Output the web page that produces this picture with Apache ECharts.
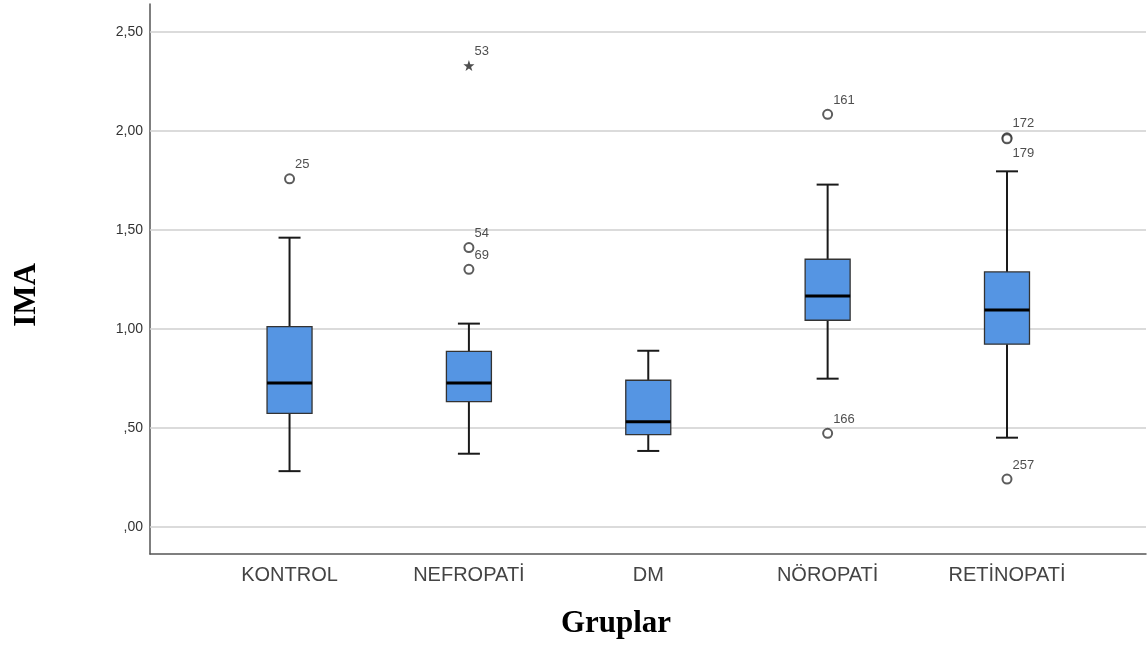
<!DOCTYPE html>
<html>
<head>
<meta charset="utf-8">
<script src="https://cdn.jsdelivr.net/npm/echarts@6/dist/echarts.min.js"></script>
<style>html,body{margin:0;padding:0;background:#fff}#c{width:1148px;height:648px}</style>
</head>
<body>
<div id="c"></div>
<script>
// ---- data ----
const categories = ['KONTROL', 'NEFROPATİ', 'DM', 'NÖROPATİ', 'RETİNOPATİ'];
const lowerWhisker = [0.282, 0.370, 0.384, 0.749, 0.451];
const q1 = [0.574, 0.633, 0.466, 1.044, 0.923];
const median = [0.727, 0.727, 0.532, 1.167, 1.096];
const q3 = [1.012, 0.887, 0.741, 1.352, 1.288];
const upperWhisker = [1.461, 1.027, 0.890, 1.729, 1.796];

const outlierGroup = [0, 1, 1, 3, 3, 4, 4, 4];
const outlierValue = [1.758, 1.411, 1.301, 2.084, 0.473, 1.965, 1.960, 0.242];
const outlierId = ['25', '54', '69', '161', '166', '172', '179', '257'];

const extremeGroup = [1];
const extremeValue = [2.33];
const extremeId = ['53'];

const yTicks = [0, 0.5, 1.0, 1.5, 2.0, 2.5];

// ---- build ----
const boxData = categories.map((c, i) => [i, lowerWhisker[i], q1[i], median[i], q3[i], upperWhisker[i]]);
const outlierData = outlierGroup.map((g, i) => ({
  value: [g, outlierValue[i]], name: outlierId[i],
  label: outlierId[i] === '179' ? { offset: [0, 15] } : undefined
}));
const extremeData = extremeGroup.map((g, i) => ({ value: [g, extremeValue[i]], name: extremeId[i] }));

const fmtY = v => { let s = v.toFixed(2).replace('.', ','); if (s.startsWith('0')) s = s.slice(1); return s; };

const chart = echarts.init(document.getElementById('c'), null, { renderer: 'canvas' });
const labelStyle = {
  show: true, position: 'right', distance: 0, offset: [0, -14],
  formatter: p => p.name, color: '#222', fontSize: 13,
  fontFamily: 'Liberation Sans, Arial, sans-serif'
};
chart.setOption({
  animation: false,
  backgroundColor: '#fff',
  grid: { left: 150, right: 2, top: 4, bottom: 94 },
  xAxis: {
    type: 'value', min: -0.778, max: 4.775,
    axisLine: { show: true, onZero: false, lineStyle: { color: '#555', width: 1.5 } },
    axisTick: { show: false },
    splitLine: { show: false },
    axisLabel: {
      customValues: [0, 1, 2, 3, 4],
      formatter: v => categories[Math.round(v)] || '',
      color: '#444', fontSize: 20, margin: 11,
      fontFamily: 'Liberation Sans, Arial, sans-serif'
    },
    name: 'Gruplar', nameLocation: 'middle', nameGap: 54,
    nameTextStyle: { fontFamily: 'Liberation Serif, Times New Roman, serif', fontWeight: 'bold', fontSize: 31, color: '#000', padding: [0, 64, 0, 0] }
  },
  yAxis: {
    type: 'value', min: -0.1364, max: 2.641,
    axisLine: { show: true, onZero: false, lineStyle: { color: '#555', width: 1.5 } },
    axisTick: { show: false },
    splitLine: { show: false },
    axisLabel: {
      customValues: yTicks,
      formatter: fmtY,
      color: '#333', fontSize: 14, margin: 7,
      fontFamily: 'Liberation Sans, Arial, sans-serif'
    },
    name: 'IMA', nameLocation: 'middle', nameGap: 108, nameRotate: 90,
    nameTextStyle: { fontFamily: 'Liberation Serif, Times New Roman, serif', fontWeight: 'bold', fontSize: 31, color: '#000', padding: [0, 32, 0, 0] }
  },
  series: [
    {
      type: 'line', data: [], silent: true, z: 1,
      markLine: {
        silent: true, symbol: 'none', animation: false, z: 1,
        label: { show: false },
        lineStyle: { color: '#cfcfcf', width: 1.5, type: 'solid' },
        data: yTicks.map(v => ({ yAxis: v }))
      }
    },
    {
      type: 'custom', z: 3,
      data: boxData,
      renderItem: (params, api) => {
        const x = api.value(0);
        const pLow = api.coord([x, api.value(1)]);
        const pQ1 = api.coord([x, api.value(2)]);
        const pMed = api.coord([x, api.value(3)]);
        const pQ3 = api.coord([x, api.value(4)]);
        const pHigh = api.coord([x, api.value(5)]);
        const cx = pMed[0];
        const bw = 45, cw = 22;
        const ws = { stroke: '#1a1a1a', lineWidth: 2 };
        return {
          type: 'group',
          children: [
            { type: 'line', shape: { x1: cx, y1: pHigh[1], x2: cx, y2: pQ3[1] }, style: ws },
            { type: 'line', shape: { x1: cx, y1: pQ1[1], x2: cx, y2: pLow[1] }, style: ws },
            { type: 'line', shape: { x1: cx - cw / 2, y1: pHigh[1], x2: cx + cw / 2, y2: pHigh[1] }, style: ws },
            { type: 'line', shape: { x1: cx - cw / 2, y1: pLow[1], x2: cx + cw / 2, y2: pLow[1] }, style: ws },
            { type: 'rect', shape: { x: cx - bw / 2, y: pQ3[1], width: bw, height: pQ1[1] - pQ3[1] },
              style: { fill: '#5595e3', stroke: '#333', lineWidth: 1.3 } },
            { type: 'line', shape: { x1: cx - bw / 2, y1: pMed[1], x2: cx + bw / 2, y2: pMed[1] },
              style: { stroke: '#000', lineWidth: 3 } }
          ]
        };
      }
    },
    {
      type: 'scatter', z: 4,
      data: outlierData,
      symbol: 'emptyCircle', symbolSize: 9,
      itemStyle: { color: '#333', borderColor: '#333', borderWidth: 1.4 },
      label: labelStyle
    },
    {
      type: 'scatter', z: 4,
      data: extremeData,
      symbol: 'path://M0,-10 L2.35,-3.24 L9.51,-3.09 L3.8,1.24 L5.88,8.09 L0,4 L-5.88,8.09 L-3.8,1.24 L-9.51,-3.09 L-2.35,-3.24 Z',
      symbolSize: 11,
      itemStyle: { color: '#222' },
      label: labelStyle
    }
  ]
});
</script>
</body>
</html>
